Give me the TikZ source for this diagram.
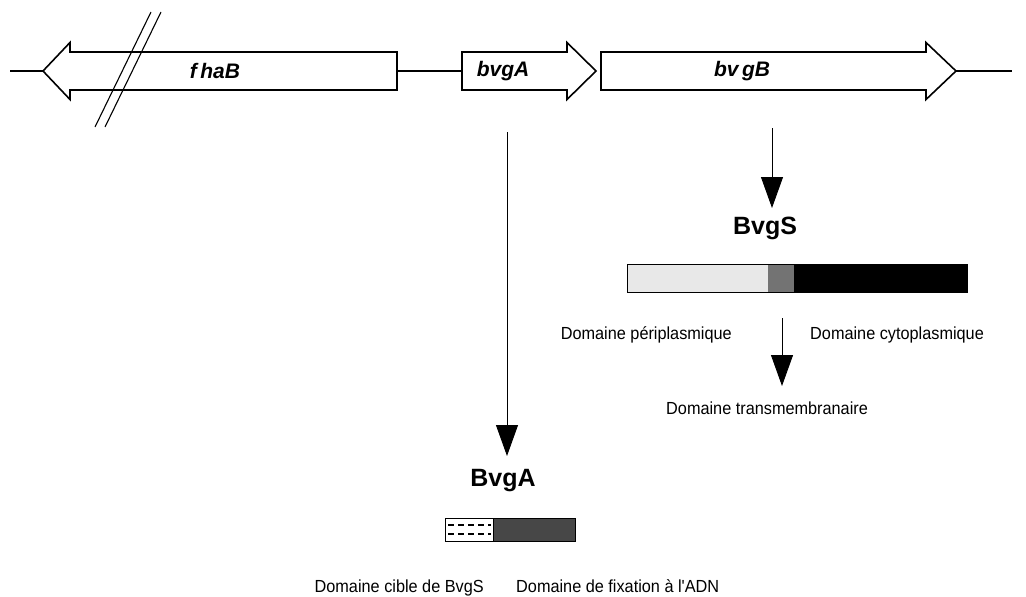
\documentclass[tikz,border=0pt]{standalone}
\usepackage{fontspec}
\setmainfont{Liberation Sans}
\newfontfamily\domfont[FakeStretch=0.93]{Liberation Sans}
\usetikzlibrary{arrows.meta}
\begin{document}
\begin{tikzpicture}[x=1pt,y=-1pt,
  gene/.style={draw=black, line width=1.6pt, fill=white, line join=miter},
  genelabel/.style={font=\fontsize{21}{25}\selectfont\bfseries\itshape, inner sep=0pt},
  prot/.style={font=\fontsize{25}{30}\selectfont\bfseries, inner sep=0pt},
  dom/.style={font=\domfont\fontsize{17.5}{21}\selectfont, inner sep=0pt},
  link/.style={line width=1.2pt},
  down/.style={line width=0.9pt, -{Triangle[length=31pt,width=22pt]}},
  slash/.style={line width=1.1pt},
  barline/.style={line width=1pt}
]
\useasboundingbox[fill=white] (0,0) rectangle (1026,597);

% gene map
\coordinate (leftend) at (10,71);
\coordinate (rightend) at (1012,71);
\coordinate (fhaBtip) at (43,71);
\coordinate (fhaBtail) at (397,71);
\coordinate (bvgAtail) at (462,71);
\coordinate (bvgAtip) at (596,71);
\coordinate (bvgBtail) at (601,71);
\coordinate (bvgBtip) at (956,71);

\draw[link] (leftend) -- (fhaBtip);
\draw[link] (fhaBtail) -- (bvgAtail);
\draw[link] (bvgBtip) -- (rightend);

\draw[gene] (fhaBtip) -- (70,42.5) -- (70,52) -- (397,52) -- (397,90) -- (70,90) -- (70,99.5) -- cycle;
\draw[gene] (462,52) -- (567,52) -- (567,42.5) -- (bvgAtip) -- (567,99.5) -- (567,90) -- (462,90) -- cycle;
\draw[gene] (601,52) -- (926,52) -- (926,42.5) -- (bvgBtip) -- (926,99.5) -- (926,90) -- (601,90) -- cycle;

\draw[slash] (95,127) -- (151,12);
\draw[slash] (105,127) -- (161,12);

\node[genelabel] (fhaB) at (215,71) {f\,haB};
\node[genelabel] (bvgA) at (503,71) {bvgA};
\node[genelabel] (bvgB) at (742,71) {bv\,gB};

% arrows down
\coordinate (aTop) at (507,132);
\coordinate (aEnd) at (507,456);
\draw[down] (aTop) -- (aEnd);
\coordinate (sTop) at (772,128);
\coordinate (sEnd) at (772,208);
\draw[down] (sTop) -- (sEnd);
\coordinate (tTop) at (782,318);
\coordinate (tEnd) at (782,386);
\draw[down] (tTop) -- (tEnd);

% proteins
\node[prot] (BvgS) at (765,228) {BvgS};
\node[prot] (BvgA) at (503,481) {BvgA};

% BvgS bar
\fill[black!9] (627,264) rectangle (768,292);
\fill[black!55] (768,264) rectangle (794,292);
\fill[black] (794,264) rectangle (967,292);
\draw[barline] (627,264) rectangle (967,292);

% BvgA bar
\fill[black!72] (493,518) rectangle (575,541);
\draw[barline] (445,518) rectangle (575,541);
\draw[barline] (493,518) -- (493,541);
\draw[dash pattern=on 6pt off 4pt, line width=1.6pt] (448,525) -- (491,525);
\draw[dash pattern=on 6pt off 4pt, line width=1.6pt] (448,534) -- (491,534);

% domain labels
\node[dom, anchor=base east] (peri) at (732,339) {Domaine périplasmique};
\node[dom, anchor=base west] (cyto) at (810,339) {Domaine cytoplasmique};
\node[dom, anchor=base west] (trans) at (666,414) {Domaine transmembranaire};
\node[dom, anchor=base east] (cible) at (484,592) {Domaine cible de BvgS};
\node[dom, anchor=base west] (fix) at (516,592) {Domaine de fixation à l'ADN};
\end{tikzpicture}
\end{document}
